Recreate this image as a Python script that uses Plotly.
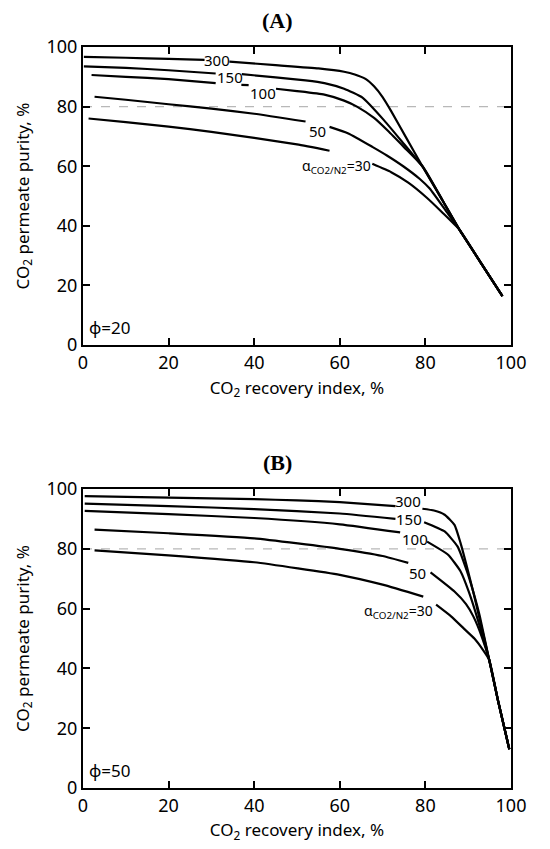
import plotly.graph_objects as go

# ---------------- data ----------------
alphas = [300, 150, 100, 50, 30]
purity_target = 80

# Panel A (phi = 20): None marks the gap where the curve label sits
a300_x = [0.2, 10, 20, 28.4, None, 34.2, 45, 55, 61, 63.5, 66, 68, 70, 72, 75.5, 79.5, 84, 88, 93, 98]
a300_y = [96.7, 96.4, 96.0, 95.7, None, 95.1, 93.9, 92.8, 91.7, 90.8, 89.3, 86.8, 83.2, 78.5, 69.6, 59.5, 48.5, 38.6, 27.5, 16.4]
a150_x = [0.2, 10, 20, 31, None, 37.1, 45, 52, 56.4, 61, 65.3, 70.4, 74.5, 79.5, 84, 88, 93, 98]
a150_y = [93.5, 93.0, 92.2, 91.1, None, 90.9, 89.8, 88.8, 87.9, 86.0, 83.0, 75.3, 68.3, 59.5, 48.5, 38.6, 27.5, 16.4]
a100_x = [2, 10, 20, 31, None, 37, 38.7, None, 45.1, 50, 56.4, 61, 64, 68, 71.3, 75, 79.5, 84, 88, 93, 98]
a100_y = [90.6, 90.0, 89.2, 87.9, None, 87.3, 87.2, None, 86.0, 85.2, 84.0, 82.0, 80.0, 76.2, 71.8, 66.4, 59.7, 48.6, 38.6, 27.5, 16.4]
a50_x = [2.7, 10, 20, 30, 40, 52, None, 57.6, 62, 67.6, 71, 74.9, 78.7, 81, 85.3, 88, 93, 98]
a50_y = [83.3, 82.3, 80.8, 79.3, 77.6, 75.0, None, 73.2, 71.0, 66.5, 63.6, 59.9, 55.7, 52.5, 44.0, 38.6, 27.5, 16.4]
a30_x = [1.3, 10, 20, 30, 40, 50, 57.6, None, 67.6, 72, 76, 80.2, 84, 88, 93, 98]
a30_y = [76.0, 74.8, 73.3, 71.5, 69.5, 67.3, 65.2, None, 60.8, 58.0, 54.5, 49.6, 44.4, 38.6, 27.5, 16.4]

# Panel B (phi = 50)
b300_x = [0.4, 20, 40, 50, 60, 73, None, 79.3, 82, 84.5, 86.8, 88.2, 89.7, 91.2, 92.5, 93.7, 94.9, 97, 99.6]
b300_y = [97.6, 97.1, 96.6, 96.2, 95.6, 94.3, None, 93.4, 92.8, 91.4, 88.0, 82.0, 74.0, 65.5, 57.5, 50.3, 42.9, 29.0, 13.0]
b150_x = [0.4, 20, 40, 60, 73, None, 79.7, 84.5, 87.5, 89.7, 91.6, 92.7, 94.9, 97, 99.6]
b150_y = [95.1, 94.3, 93.3, 91.8, 90.0, None, 88.9, 85.8, 80.8, 72.5, 63.5, 57.5, 42.9, 29.0, 13.0]
b100_x = [0.4, 20, 40, 60, 74.1, None, 80.4, 85.3, 88.2, 90.4, 92.2, 94.9, 97, 99.6]
b100_y = [92.7, 91.6, 90.3, 88.2, 85.5, None, 82.4, 78.0, 72.5, 64.6, 56.5, 42.9, 29.0, 13.0]
b50_x = [2.7, 20, 40, 60, 70, 76, None, 81.2, 86.8, 89.5, 91.2, 93.2, 94.9, 97, 99.6]
b50_y = [86.4, 85.2, 83.5, 80.0, 77.6, 75.3, None, 72.1, 65.7, 61.5, 57.4, 50.5, 42.9, 29.0, 13.0]
b30_x = [2.7, 20, 40, 60, 70, 79.5, None, 82.5, 86, 89, 91.5, 93.4, 94.9, 97, 99.6]
b30_y = [79.5, 77.8, 75.5, 71.3, 68.0, 64.0, None, 61.3, 57.4, 53.3, 49.9, 46.3, 42.9, 29.0, 13.0]

# curve-label positions (x, y) in data units
labels_a = {"300": (31.3, 95.7), "150": (34.4, 90.0), "100": (42.0, 84.4), "50": (54.9, 71.9)}
labels_b = {"300": (76.0, 96.0), "150": (76.2, 89.9), "100": (77.6, 83.3), "50": (78.2, 72.0)}
alpha30_a = (59.3, 59.8)
alpha30_b = (73.6, 59.0)
phi_a = "ϕ=20"
phi_b = "ϕ=50"

x_ticks = [0, 20, 40, 60, 80, 100]
y_ticks = [0, 20, 40, 60, 80, 100]

# ---------------- figure ----------------
FONT = "Noto Sans"
fig = go.Figure()

panel_a = [(a300_x, a300_y), (a150_x, a150_y), (a100_x, a100_y), (a50_x, a50_y), (a30_x, a30_y)]
panel_b = [(b300_x, b300_y), (b150_x, b150_y), (b100_x, b100_y), (b50_x, b50_y), (b30_x, b30_y)]

line_style = dict(color="black", width=2.2, shape="spline", smoothing=0.45)
for xs, ys in panel_a:
    fig.add_trace(go.Scatter(x=xs, y=ys, mode="lines", line=line_style,
                             connectgaps=False, showlegend=False, xaxis="x", yaxis="y"))
for xs, ys in panel_b:
    fig.add_trace(go.Scatter(x=xs, y=ys, mode="lines", line=line_style,
                             connectgaps=False, showlegend=False, xaxis="x2", yaxis="y2"))

# dashed 80 % target line
for xr, yr in [("x", "y"), ("x2", "y2")]:
    fig.add_shape(type="line", xref=f"{xr} domain", yref=yr, x0=0, x1=1, y0=purity_target, y1=purity_target,
                  line=dict(color="#b8b8b8", width=1.3, dash="dash"), layer="below")

A_DOM = [0.5978, 1.0]
B_DOM = [0.0, 0.4035]

ann = []
for txt, (x, y) in labels_a.items():
    ann.append(dict(x=x, y=y, xref="x", yref="y", text=txt, showarrow=False, font=dict(size=15)))
for txt, (x, y) in labels_b.items():
    ann.append(dict(x=x, y=y, xref="x2", yref="y2", text=txt, showarrow=False, font=dict(size=15)))
alpha_txt = "α<sub>CO2/N2</sub>=30"
ann.append(dict(x=alpha30_a[0], y=alpha30_a[1], xref="x", yref="y", text=alpha_txt, showarrow=False, font=dict(size=14)))
ann.append(dict(x=alpha30_b[0], y=alpha30_b[1], xref="x2", yref="y2", text=alpha_txt, showarrow=False, font=dict(size=14)))
ann.append(dict(x=1, y=6, xref="x", yref="y", text=phi_a, showarrow=False, xanchor="left", font=dict(size=17)))
ann.append(dict(x=1, y=6, xref="x2", yref="y2", text=phi_b, showarrow=False, xanchor="left", font=dict(size=17)))
ann.append(dict(x=0.455, y=A_DOM[1], xref="paper", yref="paper", yshift=27, yanchor="middle", text="<b>(A)</b>",
                showarrow=False, font=dict(family="Liberation Serif", size=22)))
ann.append(dict(x=0.455, y=B_DOM[1], xref="paper", yref="paper", yshift=27, yanchor="middle", text="<b>(B)</b>",
                showarrow=False, font=dict(family="Liberation Serif", size=22)))

axis_common = dict(range=[0, 100], showgrid=False, zeroline=False, showline=True, linecolor="black", linewidth=2,
                   ticks="inside", ticklen=7, tickwidth=1.8, tickcolor="black", mirror="ticks",
                   tickfont=dict(size=18, color="black"), tickvals=x_ticks)
xtitle = dict(text="CO<sub>2</sub> recovery index, %", font=dict(size=17), standoff=9)
ytitle = dict(text="CO<sub>2</sub> permeate purity, %", font=dict(size=17), standoff=13)

fig.update_layout(
    width=550, height=849,
    margin=dict(l=75, r=47, t=39, b=69),
    paper_bgcolor="white", plot_bgcolor="white",
    font=dict(family=FONT, color="black"),
    xaxis=dict(**axis_common, domain=[0, 1], anchor="y", title=xtitle),
    yaxis=dict(**{**axis_common, "tickvals": y_ticks}, domain=A_DOM, anchor="x", title=ytitle),
    xaxis2=dict(**axis_common, domain=[0, 1], anchor="y2", title=xtitle),
    yaxis2=dict(**{**axis_common, "tickvals": y_ticks}, domain=B_DOM, anchor="x2", title=ytitle),
    annotations=ann,
)

fig.write_html("out.html")
